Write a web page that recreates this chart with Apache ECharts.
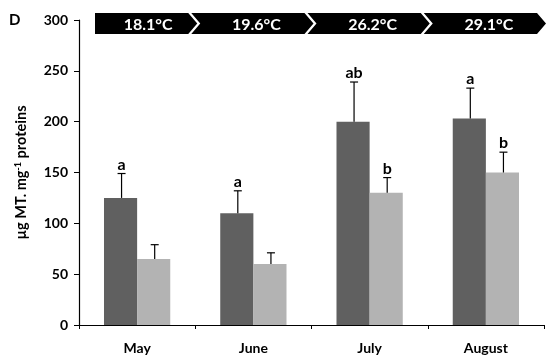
<!DOCTYPE html>
<html>
<head>
<meta charset="utf-8">
<script src="https://cdn.jsdelivr.net/npm/echarts@6/dist/echarts.min.js"></script>
<style>
  html, body { margin: 0; padding: 0; background: #fff; }
  #main { width: 549px; height: 360px; }
</style>
</head>
<body>
<div id="main"></div>
<script>
// data
const months = ["May", "June", "July", "August"];
const temps = ["18.1°C", "19.6°C", "26.2°C", "29.1°C"];
const darkMean = [125, 110, 200, 203];
const darkErr = [24, 22, 39, 30];
const lightMean = [65, 60, 130, 150];
const lightErr = [14, 11, 15, 20];
const darkSig = ["a", "a", "ab", "a"];
const lightSig = ["", "", "b", "b"];
const yTicks = [0, 50, 100, 150, 200, 250, 300];

const font = "Lato";
const gapPct = 0.43;

let chart = echarts.init(document.getElementById("main"));

// error bar + letter drawn above each bar, side = -1 dark, +1 light
function errRender(side, sig) {
    return function (params, api) {
        let i = api.value(0);
        let mean = api.value(1);
        let err = api.value(2);
        let bw = api.size([1, 0])[0];
        let w = bw * (1 - gapPct) / 2;
        let base = api.coord([i, mean]);
        let top = api.coord([i, mean + err]);
        let x = base[0] + side * w / 2 + 1;
        let children = [
            { type: "line", shape: { x1: x, y1: base[1], x2: x, y2: top[1] }, style: { stroke: "#000", lineWidth: 1.2 } },
            { type: "line", shape: { x1: x - 4, y1: top[1], x2: x + 4, y2: top[1] }, style: { stroke: "#000", lineWidth: 1.2 } }
        ];
        if (sig[i]) {
            children.push({
                type: "text",
                style: {
                    x: x, y: top[1] - 1, text: sig[i], align: "center", verticalAlign: "bottom",
                    fontFamily: font, fontWeight: "bold", fontSize: 16, fill: "#000"
                }
            });
        }
        return { type: "group", children: children };
    };
}

// chevron header band
function headRender(params, api) {
    let i = api.value(0);
    let bw = api.size([1, 0])[0];
    let c = api.coord([i, 300]);
    let lb = c[0] - bw / 2;
    let rb = c[0] + bw / 2;
    let top = c[1] - 7, bot = c[1] + 14, mid = (top + bot) / 2;
    let a = 9;
    let pts;
    if (i === 0) {
        let l = lb + 16;
        pts = [[l, top], [rb - 7, top], [rb + 2, mid], [rb - 7, bot], [l, bot]];
    } else {
        let l = lb - 4;
        pts = [[l, top], [rb - 7, top], [rb + 2, mid], [rb - 7, bot], [l, bot], [l + a, mid]];
    }
    let tx = (pts[0][0] + rb) / 2 + (i === 0 ? 3 : 5);
    return {
        type: "group",
        children: [
            { type: "polygon", shape: { points: pts }, style: { fill: "#000" } },
            {
                type: "text",
                style: {
                    x: tx, y: mid + 1, text: temps[i], align: "center", verticalAlign: "middle",
                    fontFamily: font, fontWeight: "bold", fontSize: 16, fill: "#fff"
                }
            }
        ]
    };
}

let option = {
    animation: false,
    grid: { left: 79, right: 5, top: 20, bottom: 35 },
    graphic: [
        { type: "text", left: 9, top: 13, style: { text: "D", fontFamily: font, fontWeight: "bold", fontSize: 15, fill: "#000" } }
    ],
    xAxis: {
        type: "category",
        data: months,
        axisLine: { lineStyle: { color: "#000", width: 1.2 } },
        axisTick: { show: true, length: 4, lineStyle: { color: "#000" } },
        axisLabel: { margin: 16, color: "#000", fontFamily: font, fontWeight: "bold", fontSize: 14 }
    },
    yAxis: {
        type: "value",
        min: yTicks[0],
        max: yTicks[yTicks.length - 1],
        interval: 50,
        name: "{a|µg MT. mg}{s|-1}{a| proteins}",
        nameLocation: "middle",
        nameGap: 50,
        nameTextStyle: {
            rich: {
                a: { fontFamily: font, fontWeight: "bold", fontSize: 14.5, color: "#000" },
                s: { fontFamily: font, fontWeight: "bold", fontSize: 9, color: "#000", verticalAlign: "top", padding: [0, 0, 6, 0] }
            }
        },
        splitLine: { show: false },
        axisLine: { show: true, lineStyle: { color: "#000", width: 1.2 } },
        axisTick: { show: true, length: 5, lineStyle: { color: "#000" } },
        axisLabel: { margin: 11, color: "#000", fontFamily: font, fontWeight: "bold", fontSize: 14 }
    },
    series: [
        {
            type: "bar",
            data: darkMean,
            barGap: 0,
            barCategoryGap: (gapPct * 100) + "%",
            itemStyle: { color: "#606060" }
        },
        {
            type: "bar",
            data: lightMean,
            itemStyle: { color: "#b3b3b3" }
        },
        {
            type: "custom",
            clip: false,
            renderItem: errRender(-1, darkSig),
            data: darkMean.map((v, i) => [i, v, darkErr[i]]),
            z: 5
        },
        {
            type: "custom",
            clip: false,
            renderItem: errRender(1, lightSig),
            data: lightMean.map((v, i) => [i, v, lightErr[i]]),
            z: 5
        },
        {
            type: "custom",
            clip: false,
            renderItem: headRender,
            data: months.map((m, i) => [i]),
            z: 6
        }
    ]
};

chart.setOption(option);
</script>
</body>
</html>
